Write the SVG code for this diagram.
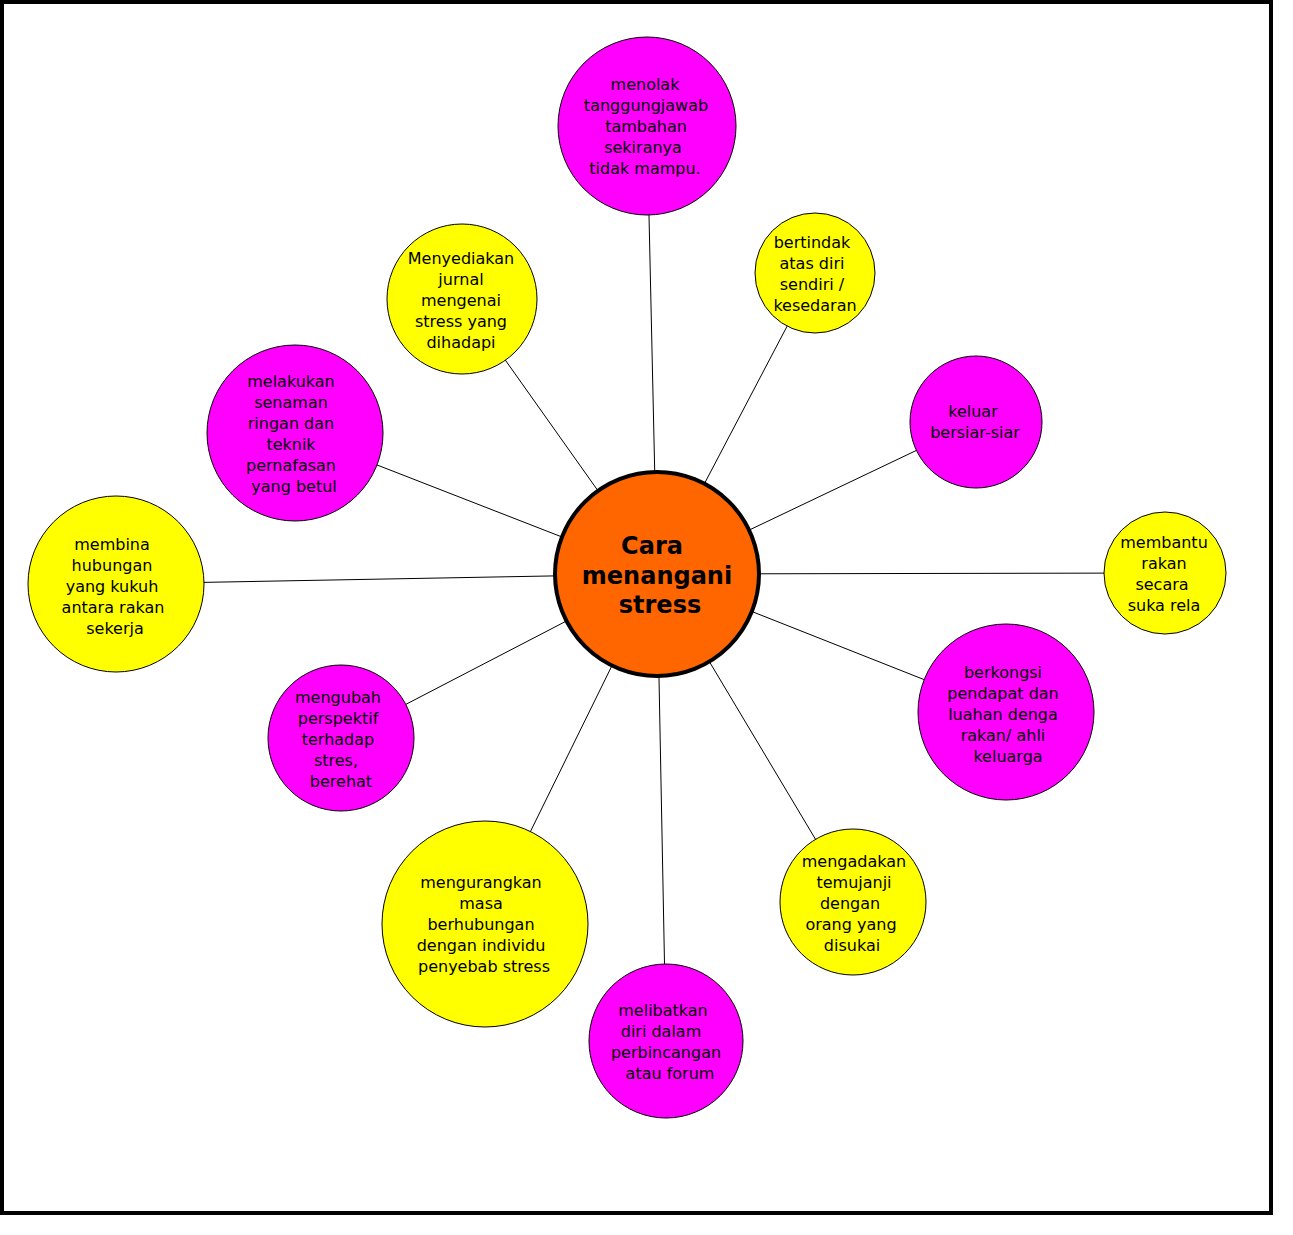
<svg xmlns="http://www.w3.org/2000/svg" width="1293" height="1235" viewBox="0 0 1293 1235">
<style>
.y{fill:#FFFF00;stroke:#000;stroke-width:1}
.m{fill:#FF00FF;stroke:#000;stroke-width:1}
.c{fill:#FF6600;stroke:#000;stroke-width:4}
text{font-family:"DejaVu Sans",Verdana,sans-serif;font-size:16px;fill:#000;text-anchor:middle}
.b{font-weight:bold;font-size:24px}
.e line{stroke:#000;stroke-width:1}
</style>
<rect x="0" y="0" width="1293" height="1235" fill="#fff"/>
<rect x="2" y="2" width="1269" height="1211" fill="#fff" stroke="#000" stroke-width="4"/>
<g class="e" id="connectors">
<line x1="657" y1="574" x2="647" y2="126"/>
<line x1="657" y1="574" x2="815" y2="273"/>
<line x1="657" y1="574" x2="976" y2="422"/>
<line x1="657" y1="574" x2="1165" y2="573"/>
<line x1="657" y1="574" x2="1006" y2="712"/>
<line x1="657" y1="574" x2="853" y2="902"/>
<line x1="657" y1="574" x2="666" y2="1041"/>
<line x1="657" y1="574" x2="485" y2="924"/>
<line x1="657" y1="574" x2="341" y2="738"/>
<line x1="657" y1="574" x2="116" y2="584"/>
<line x1="657" y1="574" x2="295" y2="433"/>
<line x1="657" y1="574" x2="462" y2="299"/>
</g>
<g id="center"><circle class="c" cx="657" cy="574" r="102"/>
<text class="b" x="652" y="554">Cara</text><text class="b" x="657" y="584">menangani</text><text class="b" x="660" y="613">stress</text></g>
<g id="n1"><circle class="m" cx="647" cy="126" r="89"/>
<text x="645" y="90">menolak</text><text x="646" y="111">tanggungjawab</text><text x="646" y="132">tambahan</text><text x="643" y="153">sekiranya</text><text x="645" y="174">tidak mampu.</text></g>
<g id="n2"><circle class="y" cx="815" cy="273" r="60"/>
<text x="812" y="248">bertindak</text><text x="812" y="269">atas diri</text><text x="812" y="290">sendiri /</text><text x="815" y="311">kesedaran</text></g>
<g id="n3"><circle class="m" cx="976" cy="422" r="66"/>
<text x="973" y="417">keluar</text><text x="975" y="438">bersiar-siar</text></g>
<g id="n4"><circle class="y" cx="1165" cy="573" r="61"/>
<text x="1164" y="548">membantu</text><text x="1164" y="569">rakan</text><text x="1162" y="590">secara</text><text x="1164" y="611">suka rela</text></g>
<g id="n5"><circle class="m" cx="1006" cy="712" r="88"/>
<text x="1003" y="678">berkongsi</text><text x="1003" y="699">pendapat dan</text><text x="1003" y="720">luahan denga</text><text x="1003" y="741">rakan/ ahli</text><text x="1008" y="762">keluarga</text></g>
<g id="n6"><circle class="y" cx="853" cy="902" r="73"/>
<text x="854" y="867">mengadakan</text><text x="854" y="888">temujanji</text><text x="850" y="909">dengan</text><text x="851" y="930">orang yang</text><text x="852" y="951">disukai</text></g>
<g id="n7"><circle class="m" cx="666" cy="1041" r="77"/>
<text x="663" y="1016">melibatkan</text><text x="661" y="1037">diri dalam</text><text x="666" y="1058">perbincangan</text><text x="670" y="1079">atau forum</text></g>
<g id="n8"><circle class="y" cx="485" cy="924" r="103"/>
<text x="481" y="888">mengurangkan</text><text x="481" y="909">masa</text><text x="481" y="930">berhubungan</text><text x="481" y="951">dengan individu</text><text x="484" y="972">penyebab stress</text></g>
<g id="n9"><circle class="m" cx="341" cy="738" r="73"/>
<text x="338" y="703">mengubah</text><text x="338" y="724">perspektif</text><text x="338" y="745">terhadap</text><text x="336" y="766">stres,</text><text x="341" y="787">berehat</text></g>
<g id="n10"><circle class="y" cx="116" cy="584" r="88"/>
<text x="112" y="550">membina</text><text x="112" y="571">hubungan</text><text x="112" y="592">yang kukuh</text><text x="113" y="613">antara rakan</text><text x="115" y="634">sekerja</text></g>
<g id="n11"><circle class="m" cx="295" cy="433" r="88"/>
<text x="291" y="387">melakukan</text><text x="291" y="408">senaman</text><text x="291" y="429">ringan dan</text><text x="291" y="450">teknik</text><text x="291" y="471">pernafasan</text><text x="294" y="492">yang betul</text></g>
<g id="n12"><circle class="y" cx="462" cy="299" r="75"/>
<text x="461" y="264">Menyediakan</text><text x="461" y="285">jurnal</text><text x="461" y="306">mengenai</text><text x="461" y="327">stress yang</text><text x="461" y="348">dihadapi</text></g>
</svg>
